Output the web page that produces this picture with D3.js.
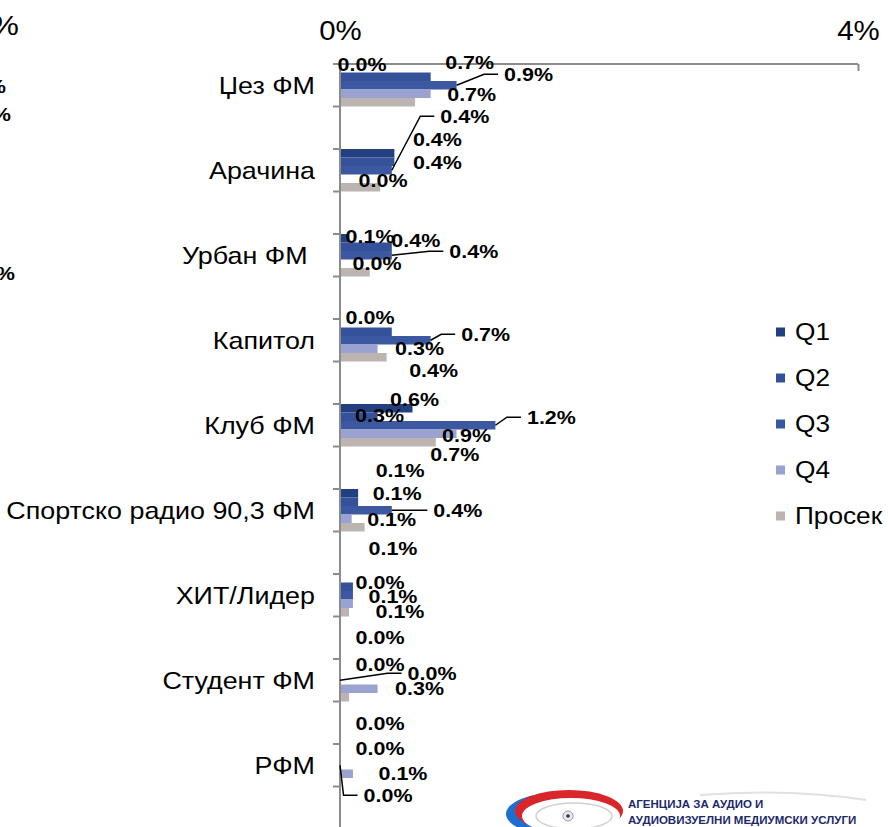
<!DOCTYPE html>
<html>
<head>
<meta charset="utf-8">
<script src="https://cdnjs.cloudflare.com/ajax/libs/d3/7.8.5/d3.min.js"></script>
<style>
  body { margin: 0; background: #fff; }
  svg { display: block; font-family: "Liberation Sans", Arial, sans-serif; }
</style>
</head>
<body>
<div id="chart"></div>
<script>
// categories and series (values in %)
const categories = ["Џез ФМ", "Арачина", "Урбан ФМ ", "Капитол", "Клуб ФМ",
  "Спортско радио 90,3 ФМ", "ХИТ/Лидер", "Студент ФМ", "РФМ"];
const seriesNames = ["Q1", "Q2", "Q3", "Q4", "Просек"];
const q1 = [0.00, 0.42, 0.07, 0.00, 0.56, 0.14, 0.00, 0.00, 0.00];
const q2 = [0.70, 0.42, 0.40, 0.40, 0.29, 0.14, 0.10, 0.00, 0.00];
const q3 = [0.90, 0.40, 0.40, 0.70, 1.20, 0.40, 0.10, 0.00, 0.00];
const q4 = [0.70, 0.00, 0.00, 0.29, 0.90, 0.09, 0.10, 0.29, 0.10];
const avg = [0.58, 0.31, 0.23, 0.36, 0.74, 0.19, 0.07, 0.07, 0.00];
const xTicks = [0, 4];

const seriesValues = [q1, q2, q3, q4, avg];
const colors = ["#22407f", "#35519a", "#3b58a1", "#9aa2cf", "#bcb4b1"];

// label placement (the labels were dragged around by hand in the original):
// [category, series, dx from bar end, dy from bar centre, leader line?]
const labelNudge = [
  [0, 0, 22, -4, 0], [0, 1, 39, -14, 0], [0, 2, 72, -11, 1], [0, 3, 41, 1, 0],
  [1, 0, 43, -14, 0], [1, 1, 43, 1, 0], [1, 2, 73, -54, 1], [1, 3, 43, 2, 0],
  [2, 0, 21, -2, 0], [2, 1, 24, -6, 0], [2, 2, 82, -4, 1], [2, 3, 37, 0, 0],
  [3, 0, 30, -6, 0], [3, 2, 55, -6, 1], [3, 3, 42, 0, 0], [3, 4, 47, 13, 0],
  [4, 0, 2, -9, 0], [4, 1, 2, -1, 0], [4, 2, 56, -8, 1], [4, 3, 10, 2, 0], [4, 4, 19, 12, 0],
  [5, 0, 42, -23, 0], [5, 1, 39, -8, 0], [5, 2, 66, 0, 1], [5, 3, 40, 1, 0],
  [6, 0, 40, 4, 0], [6, 1, 40, 10, 0], [6, 2, 47, 16, 0], [6, 3, 40, -55, 0],
  [7, 0, 40, -26, 0], [7, 1, 40, -7, 0], [7, 2, 92, -7, 1], [7, 3, 42, 0, 0],
  [8, 0, 40, -25, 0], [8, 1, 40, -8, 0], [8, 2, 48, 30, 1], [8, 3, 50, 0, 0]
];

const width = 888, height = 827;
const stretch = 1.12; // the original picture is a bit wider than tall
const svg = d3.select("#chart").append("svg")
  .attr("width", width).attr("height", height);

// scales
const x = d3.scaleLinear().domain([0, 4]).range([340, 858]);
const y = d3.scaleBand().domain(categories)
  .range([64, 64 + 8.5 * 85]).paddingInner(0.5).paddingOuter(0);
const ySub = d3.scaleBand().domain(d3.range(seriesNames.length))
  .range([0, y.bandwidth()]);

function place(sel, px, py, k) {
  return sel.attr("transform", "translate(" + px + "," + py + ") scale(" + (k || stretch) + ",1)");
}

// bits of the neighbouring chart cut off at the left edge
place(svg.append("text"), -9, 35).attr("font-size", 28).text("%");
place(svg.append("text"), -13, 93).attr("font-size", 19).attr("font-weight", "bold").text("%");
place(svg.append("text"), -8, 121).attr("font-size", 19).attr("font-weight", "bold").text("%");
place(svg.append("text"), -4, 280).attr("font-size", 19).attr("font-weight", "bold").text("%");

// bars
categories.forEach((c, ci) => {
  svg.append("g").selectAll("rect")
    .data(seriesValues.map((s, si) => ({ si, v: s[ci] })))
    .enter().append("rect")
    .attr("x", x(0))
    .attr("y", d => y(c) + ySub(d.si))
    .attr("width", d => x(d.v) - x(0))
    .attr("height", ySub.bandwidth())
    .attr("fill", d => colors[d.si]);
});

// x axis on top
const xAxis = svg.append("g")
  .attr("transform", "translate(0,64)")
  .call(d3.axisTop(x).tickValues(xTicks).tickSize(-7).tickPadding(24)
    .tickFormat(d => d + "%"));
xAxis.select(".domain").attr("d", "M333,0H" + x(4))
  .attr("stroke", "#8c8c8c").attr("stroke-width", 2);
xAxis.selectAll(".tick line").attr("stroke", "#8c8c8c").attr("stroke-width", 2);
xAxis.selectAll(".tick text").attr("font-size", 28).attr("font-family", "Liberation Sans, Arial")
  .attr("fill", "#000").attr("transform", "scale(1.05,1)");

// y axis: line plus ticks at each band edge
const yAxis = svg.append("g");
yAxis.append("line")
  .attr("x1", x(0)).attr("x2", x(0))
  .attr("y1", 64).attr("y2", height + 10)
  .attr("stroke", "#8c8c8c").attr("stroke-width", 2);
const edges = [];
categories.forEach(c => { edges.push(y(c), y(c) + y.bandwidth()); });
yAxis.selectAll(".ytick").data(edges).enter().append("line")
  .attr("x1", x(0) - 7).attr("x2", x(0))
  .attr("y1", d => d).attr("y2", d => d)
  .attr("stroke", "#8c8c8c").attr("stroke-width", 2);
yAxis.selectAll(".ylab").data(categories).enter().append("text")
  .attr("transform", d => "translate(315," + (y(d) + y.bandwidth() / 2) + ") scale(" + stretch + ",1)")
  .attr("dy", "0.35em")
  .attr("text-anchor", "end")
  .attr("font-size", 24)
  .style("white-space", "pre")
  .text(d => d);

// data labels with leader lines
const fmt = v => d3.format(".1f")(v) + "%";
const labels = svg.append("g");
labelNudge.forEach(([ci, si, dx, dy, lead]) => {
  const v = seriesValues[si][ci];
  const bx = x(v);
  const by = y(categories[ci]) + ySub(si) + ySub.bandwidth() / 2;
  const t = place(labels.append("text"), bx + dx, by + dy, 1.13)
    .attr("dy", "0.35em")
    .attr("text-anchor", "middle")
    .attr("font-size", 19)
    .attr("font-weight", "bold")
    .text(fmt(v));
  if (lead) {
    const w = t.node().getComputedTextLength() * 1.13;
    const lx = bx + dx - w / 2;
    labels.append("path")
      .attr("d", d3.line()([[bx, by], [lx - 20, by + dy], [lx - 6, by + dy]]))
      .attr("fill", "none").attr("stroke", "#000").attr("stroke-width", 1.5);
  }
});

// legend
const legend = svg.selectAll(".legend").data(seriesNames).enter().append("g")
  .attr("transform", (d, i) => "translate(776," + (332 + i * 46) + ")");
legend.append("rect").attr("x", 0).attr("y", -4.5).attr("width", 9).attr("height", 9)
  .attr("fill", (d, i) => colors[i]);
place(legend.append("text"), 19, 0, 1.14).attr("dy", "0.36em").attr("font-size", 23).text(d => d);

// agency logo (rough)
const logo = svg.append("g").attr("transform", "translate(562,814)");
logo.append("ellipse").attr("rx", 56).attr("ry", 22).attr("fill", "#1f6fd1");
logo.append("ellipse").attr("cx", 7).attr("cy", -3).attr("rx", 54).attr("ry", 21).attr("fill", "#d8262b");
logo.append("ellipse").attr("cx", 9).attr("cy", 2).attr("rx", 49).attr("ry", 18).attr("fill", "#fff");
logo.append("ellipse").attr("cx", 12).attr("cy", 2).attr("rx", 38).attr("ry", 13)
  .attr("fill", "none").attr("stroke", "#d0d0d0").attr("stroke-width", 1.5);
logo.append("circle").attr("cx", 6).attr("cy", 2).attr("r", 5).attr("fill", "#e8e8ee").attr("stroke", "#9a9ab0");
logo.append("circle").attr("cx", 6).attr("cy", 2).attr("r", 1.8).attr("fill", "#333");
svg.append("path").attr("d", "M700,795 Q790,788 866,800")
  .attr("fill", "none").attr("stroke", "#e0e0e6").attr("stroke-width", 2);
place(svg.append("text"), 628, 808, 1.0).attr("font-size", 11.5).attr("font-weight", "bold")
  .attr("fill", "#1c2a6b").text("АГЕНЦИЈА ЗА АУДИО И");
place(svg.append("text"), 628, 824, 1.0).attr("font-size", 11.5).attr("font-weight", "bold")
  .attr("fill", "#1c2a6b").text("АУДИОВИЗУЕЛНИ МЕДИУМСКИ УСЛУГИ");
</script>
</body>
</html>
